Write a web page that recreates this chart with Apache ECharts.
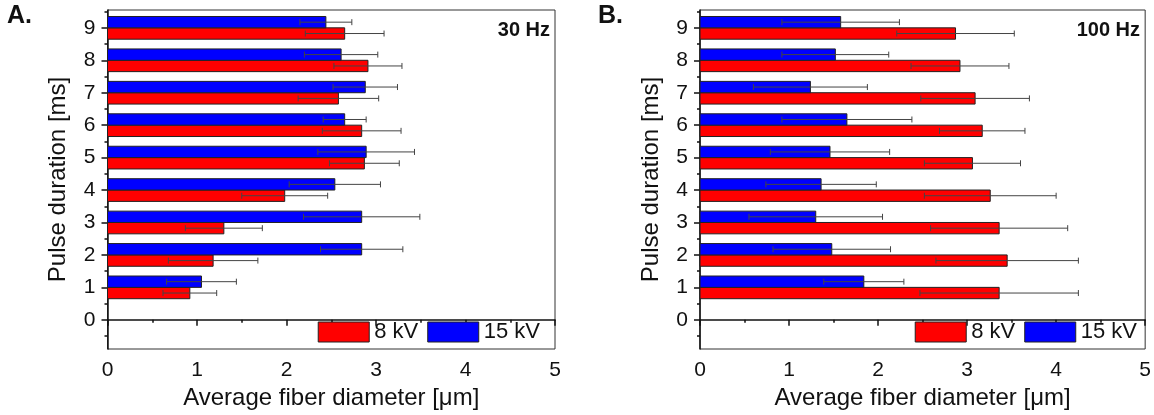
<!DOCTYPE html>
<html>
<head>
<meta charset="utf-8">
<script src="https://cdn.jsdelivr.net/npm/echarts@6/dist/echarts.min.js"></script>
<style>
  html, body { margin: 0; padding: 0; background: #fff; }
  #chart { width: 1154px; height: 415px; }
</style>
</head>
<body>
<div id="chart"></div>
<script>
// Pulse durations (ms) and axis tick positions
const durations = [1, 2, 3, 4, 5, 6, 7, 8, 9];
const yTickLabels = [0, 1, 2, 3, 4, 5, 6, 7, 8, 9];
const yMinorTicks = [-0.5, 0.5, 1.5, 2.5, 3.5, 4.5, 5.5, 6.5, 7.5, 8.5, 9.5];

// 30 Hz: mean fiber diameter (µm) and standard deviation
const diam30Hz8kV  = [0.92, 1.18, 1.30, 1.98, 2.87, 2.84, 2.58, 2.91, 2.65];
const err30Hz8kV   = [0.30, 0.50, 0.43, 0.48, 0.39, 0.44, 0.45, 0.38, 0.44];
const diam30Hz15kV = [1.05, 2.84, 2.84, 2.54, 2.89, 2.65, 2.88, 2.61, 2.44];
const err30Hz15kV  = [0.39, 0.46, 0.65, 0.51, 0.54, 0.24, 0.36, 0.41, 0.29];

// 100 Hz: mean fiber diameter (µm) and standard deviation
const diam100Hz8kV  = [3.36, 3.45, 3.36, 3.26, 3.06, 3.17, 3.09, 2.92, 2.87];
const err100Hz8kV   = [0.89, 0.80, 0.77, 0.74, 0.54, 0.48, 0.61, 0.55, 0.66];
const diam100Hz15kV = [1.84, 1.48, 1.30, 1.36, 1.46, 1.65, 1.24, 1.52, 1.58];
const err100Hz15kV  = [0.45, 0.66, 0.75, 0.62, 0.67, 0.73, 0.64, 0.60, 0.66];

const FONT = '"Liberation Sans", Arial, sans-serif';
const RED = '#ff0000';
const BLUE = '#0000ff';
const BAR_HALF = 0.35;   // bar thickness in axis units

function rows(vals, errs) {
  return durations.map((d, i) => [vals[i], errs[i], d]);
}

// side = +1 draws the bar above the tick, -1 below it
function barRenderer(side) {
  return function (params, api) {
    const v = api.value(0), e = api.value(1), c = api.value(2);
    const p0 = api.coord([0, c]);
    const p1 = api.coord([v, c + side * BAR_HALF]);
    const ym = api.coord([0, c + side * BAR_HALF / 2])[1];
    const xl = api.coord([v - e, c])[0];
    const xr = api.coord([v + e, c])[0];
    const errStyle = { stroke: '#444', lineWidth: 1 };
    return {
      type: 'group',
      children: [
        {
          type: 'rect',
          shape: { x: p0[0], y: Math.min(p0[1], p1[1]), width: p1[0] - p0[0], height: Math.abs(p1[1] - p0[1]) },
          style: { fill: api.visual('color'), stroke: '#222', lineWidth: 1 }
        },
        { type: 'line', shape: { x1: xl, y1: ym, x2: xr, y2: ym }, style: errStyle, z2: 2 },
        { type: 'line', shape: { x1: xl, y1: ym - 3, x2: xl, y2: ym + 3 }, style: errStyle, z2: 2 },
        { type: 'line', shape: { x1: xr, y1: ym - 3, x2: xr, y2: ym + 3 }, style: errStyle, z2: 2 }
      ]
    };
  };
}

function xAxisFor(gridIndex) {
  return {
    type: 'value', gridIndex, min: 0, max: 5, interval: 1,
    axisLine: { show: true, lineStyle: { color: '#111', width: 1.5 } },
    axisTick: { show: true, length: 6, lineStyle: { color: '#111', width: 1.5 } },
    minorTick: { show: true, splitNumber: 2, length: 3, lineStyle: { color: '#111', width: 1.5 } },
    axisLabel: { fontSize: 21, color: '#111', fontFamily: FONT, margin: 11 },
    splitLine: { show: false },
    name: 'Average fiber diameter [μm]',
    nameLocation: 'middle', nameGap: 34,
    nameTextStyle: { fontSize: 24, color: '#111', fontFamily: FONT }
  };
}

function yAxesFor(gridIndex) {
  return [
    {
      type: 'value', gridIndex, min: -0.9, max: 9.55, position: 'left',
      axisLine: { show: true, lineStyle: { color: '#111', width: 1.5 } },
      axisTick: { show: true, length: 6, customValues: yTickLabels, lineStyle: { color: '#111', width: 1.5 } },
      axisLabel: { fontSize: 21, color: '#111', fontFamily: FONT, margin: 12, customValues: yTickLabels },
      splitLine: { show: false },
      name: 'Pulse duration [ms]',
      nameLocation: 'middle', nameRotate: 90, nameGap: 37,
      nameTextStyle: { fontSize: 24, color: '#111', fontFamily: FONT }
    },
    {
      type: 'value', gridIndex, min: -0.9, max: 9.55, position: 'left',
      axisLine: { show: false },
      axisTick: { show: true, length: 3, customValues: yMinorTicks, lineStyle: { color: '#111', width: 1.5 } },
      axisLabel: { show: false },
      splitLine: { show: false }
    }
  ];
}

function legendFor(right) {
  return {
    data: ['8 kV', '15 kV'],
    right, top: 321, padding: 0,
    orient: 'horizontal', icon: 'rect',
    itemWidth: 51, itemHeight: 20, itemGap: 9,
    selectedMode: false,
    itemStyle: { borderColor: '#222', borderWidth: 1 },
    textStyle: { fontSize: 22, color: '#111', fontFamily: FONT }
  };
}

function panelSeries(xIdx, yIdx, vals8, errs8, vals15, errs15) {
  return [
    {
      name: '8 kV', type: 'custom', xAxisIndex: xIdx, yAxisIndex: yIdx,
      itemStyle: { color: RED },
      encode: { x: 0, y: 2 },
      renderItem: barRenderer(-1),
      data: rows(vals8, errs8)
    },
    {
      name: '15 kV', type: 'custom', xAxisIndex: xIdx, yAxisIndex: yIdx,
      itemStyle: { color: BLUE },
      encode: { x: 0, y: 2 },
      renderItem: barRenderer(1),
      data: rows(vals15, errs15)
    }
  ];
}

const chart = echarts.init(document.getElementById('chart'), null, { renderer: 'canvas' });

chart.setOption({
  animation: false,
  backgroundColor: '#fff',
  textStyle: { fontFamily: FONT },
  grid: [
    { left: 107.5, top: 10, width: 447.5, height: 339, show: true, borderColor: '#333', borderWidth: 1, backgroundColor: 'transparent' },
    { left: 700, top: 10, width: 447, height: 339, show: true, borderColor: '#333', borderWidth: 1, backgroundColor: 'transparent' }
  ],
  xAxis: [xAxisFor(0), xAxisFor(1)],
  yAxis: [...yAxesFor(0), ...yAxesFor(1)],
  legend: [legendFor(614), legendFor(17)],
  series: [
    ...panelSeries(0, 0, diam30Hz8kV, err30Hz8kV, diam30Hz15kV, err30Hz15kV),
    ...panelSeries(1, 2, diam100Hz8kV, err100Hz8kV, diam100Hz15kV, err100Hz15kV)
  ],
  graphic: [
    { type: 'text', left: 7, top: 4, style: { text: 'A.', font: 'bold 25px ' + FONT, fill: '#111' } },
    { type: 'text', left: 598, top: 4, style: { text: 'B.', font: 'bold 25px ' + FONT, fill: '#111' } },
    { type: 'text', right: 604, top: 20, style: { text: '30 Hz', font: 'bold 20px ' + FONT, fill: '#111' } },
    { type: 'text', right: 14, top: 20, style: { text: '100 Hz', font: 'bold 20px ' + FONT, fill: '#111' } }
  ]
});
</script>
</body>
</html>
